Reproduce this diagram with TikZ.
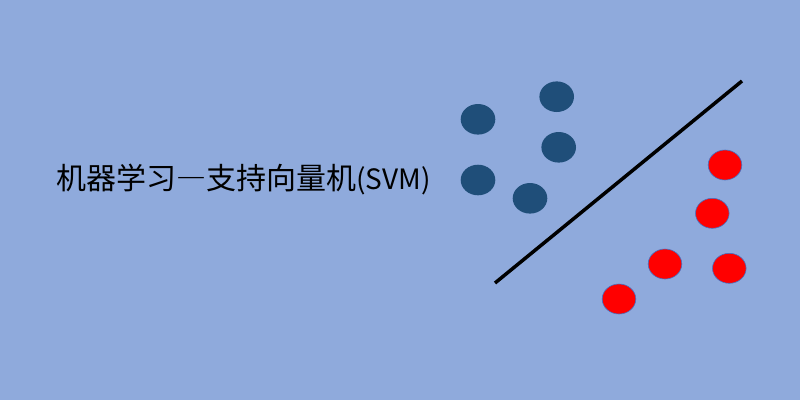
\documentclass[tikz,border=0pt]{standalone}
\usepackage{fontspec}
\newfontfamily\cjk{Noto Sans CJK SC}
\newfontfamily\cjkfw[RawFeature=+fwid]{Noto Sans CJK SC}
\definecolor{bgblue}{HTML}{8FAADC}
\definecolor{dotblue}{HTML}{1F4E79}
\definecolor{dotred}{HTML}{FF0000}
\definecolor{rimblue}{HTML}{4472C4}
\begin{document}
\begin{tikzpicture}[x=1pt,y=-1pt]
\tikzset{
  bdot/.style={fill=dotblue,draw=none},
  rdot/.style={fill=dotred,draw=rimblue,line width=0.6pt},
}
\fill[bgblue] (0,0) rectangle (800,400);
\useasboundingbox (0,0) rectangle (800,400);
\node[anchor=west,inner sep=0pt,font=\cjk\fontsize{30}{34}\selectfont,text=black] (title) at (56,180)
  {机器学习{\cjkfw —}支持向量机{\fontsize{28}{32}\selectfont (SVM)}};
% blue dots
\fill[bdot] (556.7,96.7) ellipse [x radius=17.3, y radius=15.3];
\fill[bdot] (478,119.3) ellipse [x radius=17.3, y radius=15.3];
\fill[bdot] (558.7,147.3) ellipse [x radius=17.3, y radius=15.3];
\fill[bdot] (478,180) ellipse [x radius=17.3, y radius=15.3];
\fill[bdot] (530,198.3) ellipse [x radius=17.3, y radius=15.3];
% red dots
\filldraw[rdot] (725,165) ellipse [x radius=16.8, y radius=15];
\filldraw[rdot] (712.3,213.3) ellipse [x radius=16.8, y radius=15];
\filldraw[rdot] (665,264) ellipse [x radius=16.8, y radius=15];
\filldraw[rdot] (729.3,268.3) ellipse [x radius=16.8, y radius=15];
\filldraw[rdot] (619,299) ellipse [x radius=16.8, y radius=15];
% separating line
\coordinate (l1) at (495,283);
\coordinate (l2) at (742,81);
\draw[line width=3.5pt,black] (l1) -- (l2);
\end{tikzpicture}
\end{document}
